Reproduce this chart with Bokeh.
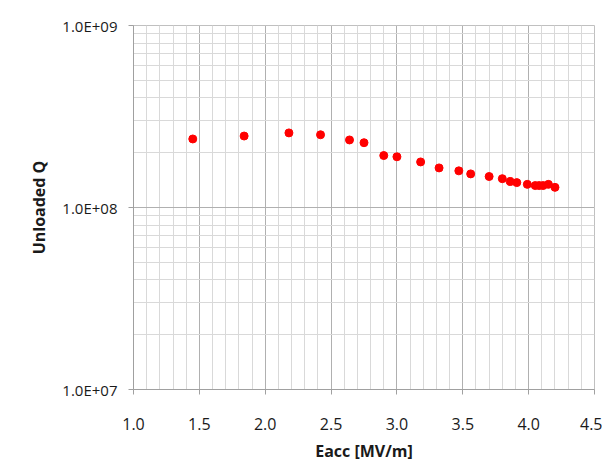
import numpy as np
from bokeh.plotting import figure
from bokeh.models import FixedTicker, CustomJSTickFormatter, PrintfTickFormatter, Range1d
from bokeh.embed import file_html
from bokeh.resources import INLINE

# Data
eacc = [1.45, 1.84, 2.18, 2.42, 2.64, 2.75, 2.90, 3.00, 3.18, 3.32, 3.47,
        3.56, 3.70, 3.80, 3.86, 3.91, 3.99, 4.05, 4.08, 4.11, 4.15, 4.20]
q0 = [2.38e8, 2.47e8, 2.57e8, 2.51e8, 2.35e8, 2.27e8, 1.93e8, 1.90e8, 1.78e8,
      1.65e8, 1.59e8, 1.53e8, 1.48e8, 1.44e8, 1.39e8, 1.37e8, 1.34e8, 1.32e8,
      1.32e8, 1.32e8, 1.34e8, 1.29e8]

x_ticks = [1.0, 1.5, 2.0, 2.5, 3.0, 3.5, 4.0, 4.5]
y_ticks = [1e7, 1e8, 1e9]

x_minor = [round(v, 2) for v in np.arange(1.0, 4.5001, 0.1)]
y_minor = [m * d for d in (1e7, 1e8) for m in range(1, 11)]

FONT = "Open Sans"

p = figure(width=602, height=464, y_axis_type="log",
           x_range=Range1d(1.0, 4.5), y_range=Range1d(1e7, 1e9),
           output_backend="svg", toolbar_location=None,
           min_border_left=133, min_border_top=25,
           min_border_right=8, min_border_bottom=74)

p.scatter(eacc, q0, size=8, color="#ff0000", line_color="#ff0000")

p.xaxis.ticker = FixedTicker(ticks=x_ticks, minor_ticks=x_minor)
p.yaxis.ticker = FixedTicker(ticks=y_ticks, minor_ticks=y_minor)
p.xaxis.formatter = PrintfTickFormatter(format="%.1f")
p.yaxis.formatter = CustomJSTickFormatter(code="""
const e = Math.round(Math.log10(tick));
const m = tick / Math.pow(10, e);
return m.toFixed(1) + "E+" + String(e).padStart(2, "0");
""")

for ax in (p.xaxis, p.yaxis):
    ax.axis_line_color = "#a0a0a0"
    ax.major_tick_line_color = "#a0a0a0"
    ax.major_tick_out = 5
    ax.major_tick_in = 0
    ax.minor_tick_line_color = None
    ax.major_label_text_font = FONT
    ax.major_label_text_color = "#1a1a1a"
    ax.axis_label_text_font = FONT
    ax.axis_label_text_font_style = "bold"
    ax.axis_label_text_font_size = "16px"
    ax.axis_label_text_color = "#1a1a1a"

p.xaxis.major_label_text_font_size = "16px"
p.yaxis.major_label_text_font_size = "15px"
p.xaxis.major_label_standoff = 23
p.yaxis.major_label_standoff = 11
p.xaxis.axis_label = "Eacc [MV/m]"
p.yaxis.axis_label = "Unloaded Q"
p.xaxis.axis_label_standoff = 7
p.yaxis.axis_label_standoff = 9

for g in (p.xgrid, p.ygrid):
    g.grid_line_color = "#b0b0b0"
    g.minor_grid_line_color = "#d9d9d9"
    g.grid_line_width = 1
    g.minor_grid_line_width = 1

p.outline_line_color = "#c0c0c0"
p.background_fill_color = "white"
p.border_fill_color = "white"

open("out.html", "w").write(file_html(p, INLINE))
